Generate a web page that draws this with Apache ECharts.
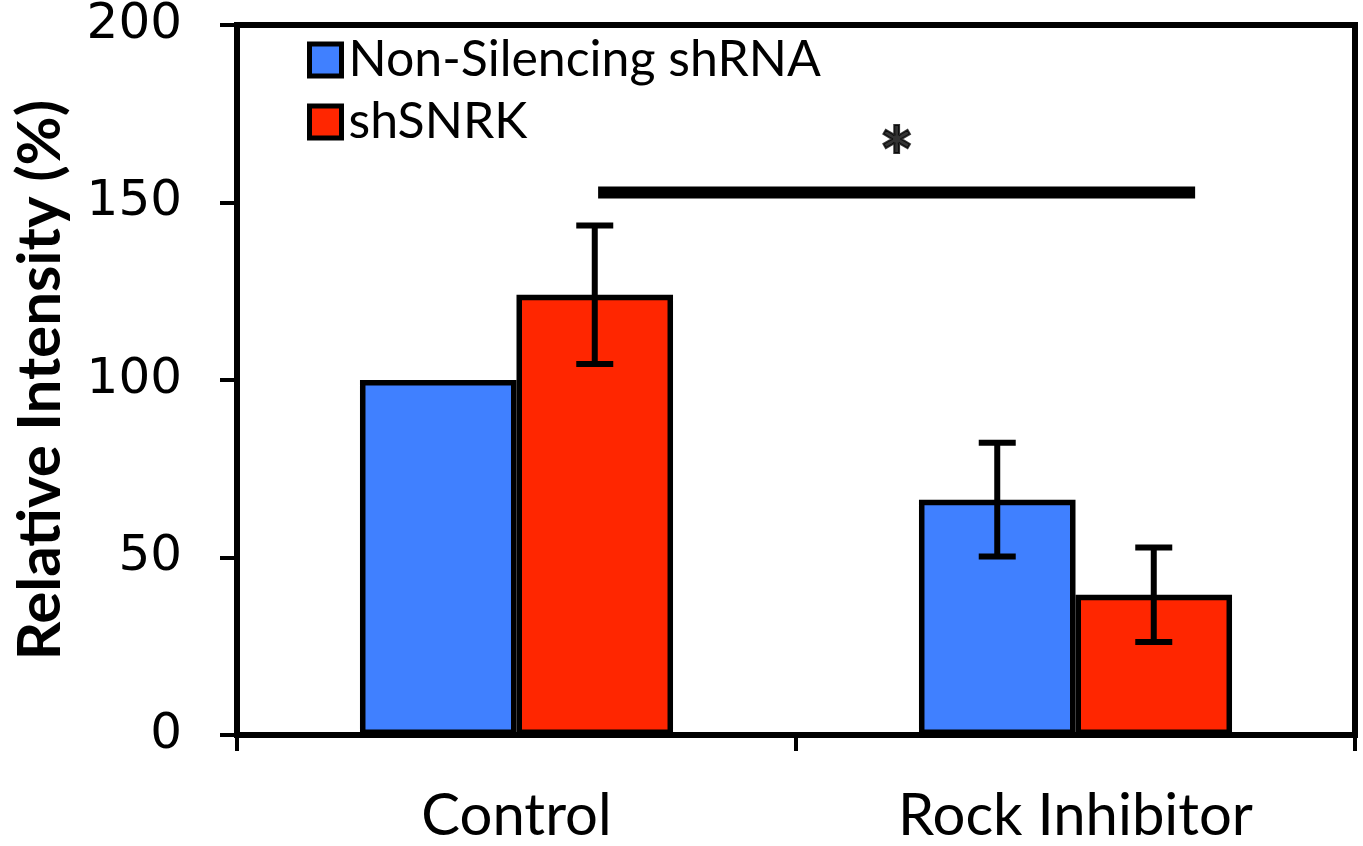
<!DOCTYPE html>
<html><head><meta charset="utf-8">
<script src="https://cdn.jsdelivr.net/npm/echarts@6/dist/echarts.min.js"></script>
<style>html,body{margin:0;padding:0;background:#fff}#c{width:1363px;height:846px}</style>
</head><body><div id="c"></div>
<script>
const categories = ['Control', 'Rock Inhibitor'];
const seriesNames = ['Non-Silencing shRNA', 'shSNRK'];
const nonSilencing = [100, 66.3];
const nonSilencingErr = [0, 16];
const shSNRK = [124, 39.5];
const shSNRKErr = [19.5, 13.3];
const yTicks = [0, 50, 100, 150, 200];
const sigLineX = [0.646, 1.714];
const sigLineY = 152.8;
const sigStar = [1.18, 161.5];

const BLUE = '#4080FF', RED = '#FF2600';
function errData(means, errs) {
  return means.map((m, i) => [i, m - errs[i], m + errs[i], errs[i]]);
}
function errRender(offsetFrac) {
  return function (params, api) {
    if (api.value(3) <= 0) return null;
    const xi = api.value(0);
    const top = api.coord([xi, api.value(2)]);
    const bot = api.coord([xi, api.value(1)]);
    const band = api.size([1, 0])[0];
    const x = top[0] + offsetFrac * band;
    const hw = 18.5;
    const st = { stroke: '#000', lineWidth: 6 };
    return { type: 'group', children: [
      { type: 'line', shape: { x1: x, y1: top[1], x2: x, y2: bot[1] }, style: st },
      { type: 'line', shape: { x1: x - hw, y1: top[1], x2: x + hw, y2: top[1] }, style: st },
      { type: 'line', shape: { x1: x - hw, y1: bot[1], x2: x + hw, y2: bot[1] }, style: st }
    ] };
  };
}
const chart = echarts.init(document.getElementById('c'));
chart.setOption({
  animation: false,
  grid: { left: 237, right: 8, top: 25, bottom: 111, show: true, borderColor: '#000', borderWidth: 6, backgroundColor: 'transparent' },
  legend: {
    orient: 'vertical', left: 302, top: 30, itemGap: 12,
    itemWidth: 32, itemHeight: 32, icon: 'rect',
    itemStyle: { borderColor: '#000', borderWidth: 5 },
    textStyle: { fontFamily: 'Lato', fontSize: 50, color: '#000', padding: [0, 0, 0, 2] },
    data: seriesNames
  },
  xAxis: [{
    type: 'category', data: categories,
    axisLine: { lineStyle: { color: '#000', width: 6 } },
    axisTick: { show: true, length: 16, lineStyle: { color: '#000', width: 4 } },
    axisLabel: { fontFamily: 'Lato', fontSize: 58, color: '#000', margin: 52 }
  }, {
    type: 'value', min: 0, max: 2, show: false
  }],
  yAxis: {
    type: 'value', min: 0, max: 200, interval: 50,
    name: 'Relative Intensity (%)', nameLocation: 'middle', nameRotate: 90, nameGap: 166,
    nameTextStyle: { fontFamily: 'Lato', fontWeight: 'bold', fontSize: 60, color: '#000' },
    axisLine: { show: true, lineStyle: { color: '#000', width: 6 } },
    axisTick: { show: true, length: 17, lineStyle: { color: '#000', width: 4 } },
    splitLine: { show: false },
    axisLabel: { fontFamily: 'DejaVu Sans', fontSize: 50, color: '#000', margin: 55,
      formatter: v => yTicks.includes(v) ? String(v) : '' }
  },
  series: [
    { name: seriesNames[0], type: 'bar', data: nonSilencing, barWidth: '28%', barGap: '0%',
      itemStyle: { color: BLUE, borderColor: '#000', borderWidth: 5.5 }, z: 2 },
    { name: seriesNames[1], type: 'bar', data: shSNRK, barWidth: '28%', barGap: '0%',
      itemStyle: { color: RED, borderColor: '#000', borderWidth: 5.5 }, z: 2 },
    { type: 'custom', renderItem: errRender(-0.14), data: errData(nonSilencing, nonSilencingErr), z: 5,
      encode: { x: 0, y: [1, 2] } },
    { type: 'custom', renderItem: errRender(0.14), data: errData(shSNRK, shSNRKErr), z: 5,
      encode: { x: 0, y: [1, 2] } },
    { type: 'line', xAxisIndex: 1, data: sigLineX.map(x => [x, sigLineY]), symbol: 'none',
      lineStyle: { color: '#000', width: 12, cap: 'butt' }, z: 5 },
    { type: 'scatter', xAxisIndex: 1, data: [sigStar], symbolSize: 1, itemStyle: { color: 'transparent' },
      label: { show: true, position: 'inside', formatter: '*', fontFamily: 'Lato', fontWeight: 'bold', fontSize: 82, color: '#000',
        textBorderColor: '#000', textBorderWidth: 2 }, z: 5 }
  ]
});
</script></body></html>
